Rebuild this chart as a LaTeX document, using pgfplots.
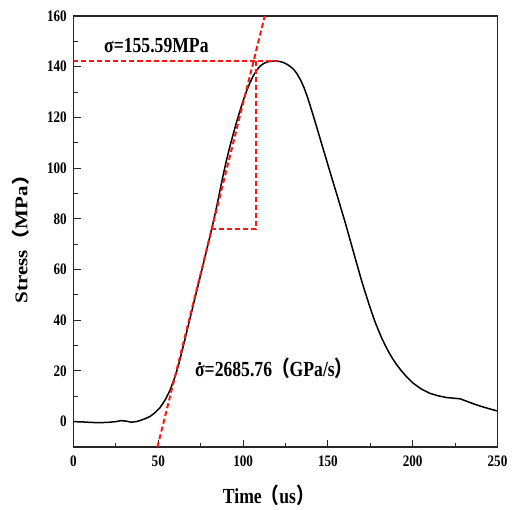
\documentclass[border=0pt]{standalone}
\usepackage{fontspec}
\setmainfont{Liberation Serif}[FakeStretch=0.82]
\newfontfamily\cjk{Noto Sans CJK SC}[FakeStretch=0.82]
\newfontfamily\serifns{Liberation Serif}
\newfontfamily\cjkns{Noto Sans CJK SC}
\usepackage{graphicx}
\usepackage{pgfplots}
\pgfplotsset{compat=1.18}
\newcommand\lp{{\cjk （}}
\newcommand\rp{{\cjk ）}}
\newcommand\sigdot{\ooalign{σ\cr\hidewidth\raisebox{0.5em}{.}\hidewidth\cr}}
\definecolor{dred}{RGB}{255,20,20}
\begin{document}
\begin{tikzpicture}
\path[use as bounding box] (-73.5pt,-63pt) rectangle (443.5pt,447pt);
\begin{axis}[
  at={(0,0)}, anchor=south west,
  scale only axis, width=424pt, height=431pt,
  xmin=0, xmax=250, ymin=-10, ymax=160,
  xtick={0,50,...,250}, ytick={0,20,...,160},
  minor x tick num=1, minor y tick num=1,
  tick align=inside, tick pos=left,
  major tick length=7pt, minor tick length=4pt,
  axis line style={line width=1.2pt, black!85},
  tick style={line width=1.1pt, black!85},
  /pgf/number format/assume math mode=true,
  every tick label/.append style={font=\fontsize{16}{16}\selectfont\bfseries},
  yticklabel style={xshift=-3.2pt},
  xticklabel style={yshift=-5.7pt},
  xlabel={Time\lp us\rp},
  xlabel style={at={(axis description cs:0.352,0)}, anchor=base west, yshift=-56.3pt, inner sep=0pt, font=\fontsize{21.5}{24}\selectfont\bfseries},
  ylabel={\scalebox{1}[0.85]{\serifns\bfseries Stress{\cjkns （}MPa{\cjkns ）}}},
  ylabel style={at={(axis description cs:-0.109,0.494)}, anchor=base, inner sep=0pt, font=\fontsize{21}{24}\selectfont},
]
\addplot[black, line width=1.5pt] coordinates {
(0,0) (5,-0.1) (10,-0.3) (15,-0.4) (20,-0.3) (25,0.0) (28,0.4) (31,0.2) (34,-0.2) (37,0.0) (40,0.6) (43,1.4)
(45,2.0) (48,3.5) (51,5.5) (54,8.5) (57,12.5) (60,18.0) (62,22.5) (64,27.8) (66,33.2) (68,38.8) (70,44.3)
(72,49.8) (74,55.2) (76,60.7) (78,66.3) (80,71.8) (82,77.5) (84,83.5) (86,90.0) (88,96.5) (90,102.5)
(92,108.0) (94,113.0) (96,117.8) (98,122.3) (100,126.5) (102,130.3) (104,133.6) (106,136.4) (108,138.6)
(110,140.2) (112,141.2) (114,141.8) (116,142.1) (118,142.2) (120,142.2) (122,142.0) (124,141.6) (126,140.9)
(128,140.0) (130,138.8) (132,137.0) (134,134.6) (136,131.6) (138,127.9) (140,123.7) (142,119.3) (144,114.8)
(146,110.3) (148,105.8) (150,101.3) (152,96.8) (154,92.4) (156,88.0) (158,83.5) (160,79.0) (162,74.3)
(164,69.5) (166,64.7) (168,60.0) (170,55.3) (172,51.0) (174,46.8) (176,42.8) (178,39.0) (180,35.7)
(182,32.6) (184,29.8) (186,27.3) (188,25.0) (190,23.0) (193,20.3) (196,18.0) (200,15.3) (205,12.9)
(210,11.2) (215,10.2) (220,9.5) (225,9.2) (228,9.0) (232,8.0) (236,7.0) (240,6.1) (245,5.1) (250,4.2)
};
\addplot[dred, line width=2pt, dash pattern=on 5pt off 3pt] coordinates {(0,142.2) (119.8,142.2)};
\addplot[dred, line width=2pt, dash pattern=on 5pt off 3pt] coordinates {(49.5,-10) (112.8,160)};
\addplot[dred, line width=2pt, dash pattern=on 5pt off 3pt] coordinates {(107.6,142.2) (107.6,75.8) (81.5,75.8)};
\node[anchor=base west, inner sep=0pt, font=\fontsize{21.5}{24}\selectfont\bfseries] at (axis cs:18,145.7) {σ=155.59MPa};
\node[anchor=base west, inner sep=0pt, font=\fontsize{21.5}{24}\selectfont\bfseries] at (axis cs:71.6,18) {\sigdot=2685.76\lp GPa/s\rp};
\end{axis}
\end{tikzpicture}
\end{document}
